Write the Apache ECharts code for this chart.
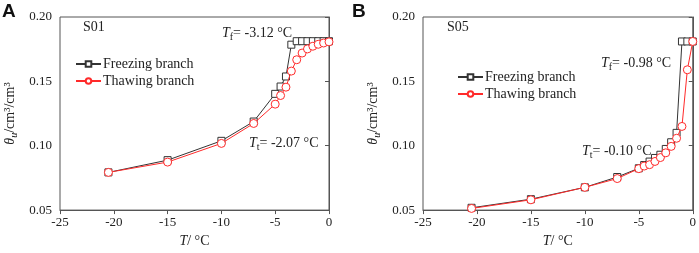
<!DOCTYPE html>
<html><head><meta charset="utf-8">
<script src="https://cdn.jsdelivr.net/npm/echarts@6/dist/echarts.min.js"></script>
<style>html,body{margin:0;padding:0;background:#fff}#c{width:699px;height:253px}</style>
</head><body><div id="c"></div>
<script>
// Panel A (S01)
const tA_freeze = [-20.5, -15, -10, -7, -5, -4.5, -4, -3.5, -3, -2.5, -2, -1.5, -1, -0.5, 0];
const thA_freeze = [0.0793, 0.0888, 0.1038, 0.1188, 0.1403, 0.146, 0.1538, 0.1785, 0.1812, 0.1812, 0.1812, 0.1812, 0.1812, 0.1812, 0.1812];
const tA_thaw = [-20.5, -15, -10, -7, -5, -4.5, -4, -3.5, -3, -2.5, -2, -1.5, -1, -0.5, 0];
const thA_thaw = [0.0793, 0.0873, 0.1018, 0.1173, 0.1323, 0.139, 0.1455, 0.158, 0.1668, 0.172, 0.1752, 0.1773, 0.1788, 0.1798, 0.1807];
// Panel B (S05)
const tB_freeze = [-20.5, -15, -10, -7, -5, -4.5, -4, -3.5, -3, -2.5, -2, -1.5, -1, -0.5, 0];
const thB_freeze = [0.0518, 0.0585, 0.0677, 0.0757, 0.0825, 0.085, 0.0877, 0.0905, 0.093, 0.0975, 0.1027, 0.110, 0.181, 0.181, 0.181];
const tB_thaw = [-20.5, -15, -10, -7, -5, -4.5, -4, -3.5, -3, -2.5, -2, -1.5, -1, -0.5, 0];
const thB_thaw = [0.0513, 0.058, 0.0677, 0.0745, 0.0822, 0.0842, 0.0853, 0.0878, 0.0908, 0.0945, 0.0995, 0.1058, 0.115, 0.159, 0.181];

const xTicks = [-25, -20, -15, -10, -5, 0];
const yTicks = ['0.05', '0.10', '0.15', '0.20'];
const seriesNames = ['Freezing branch', 'Thawing branch'];

const SERIF = '"Liberation Serif", "Times New Roman", serif';
const AX = '#555';
const RED = '#ff2a2a';
const BLK = '#333';

function pairs(xs, ys) { return xs.map((x, i) => [x, ys[i]]); }

function xAxis(idx) {
  return {
    gridIndex: idx, type: 'value', min: xTicks[0], max: xTicks[xTicks.length - 1], interval: 5,
    axisLine: { lineStyle: { color: AX, width: 1 } },
    axisTick: { inside: false, length: 4, lineStyle: { color: AX } },
    axisLabel: { color: '#222', fontFamily: SERIF, fontSize: 13, margin: 6 },
    splitLine: { show: false },
    name: '{i|T}/ °C', nameLocation: 'middle', nameGap: 22,
    nameTextStyle: { color: '#222', fontFamily: SERIF, fontSize: 14,
      rich: { i: { fontStyle: 'italic', fontFamily: SERIF, fontSize: 14, color: '#222' } } }
  };
}
function yAxis(idx) {
  return {
    gridIndex: idx, type: 'value', min: 0.05, max: 0.2, interval: 0.05,
    axisLine: { lineStyle: { color: AX, width: 1 } },
    axisTick: { inside: false, length: 4, lineStyle: { color: AX } },
    axisLabel: { color: '#222', fontFamily: SERIF, fontSize: 13, margin: 8,
      formatter: v => v.toFixed(2) },
    splitLine: { show: false },
    name: '{i|θ}{s|u}/cm³/cm³', nameLocation: 'middle', nameGap: 41, nameRotate: 90,
    nameTextStyle: { color: '#222', fontFamily: SERIF, fontSize: 14, lineHeight: 18,
      rich: {
        i: { fontStyle: 'italic', fontFamily: SERIF, fontSize: 14, lineHeight: 18, color: '#222' },
        s: { fontStyle: 'italic', fontFamily: SERIF, fontSize: 10, lineHeight: 10, verticalAlign: 'bottom', color: '#222' }
      } }
  };
}
function lineSeries(name, idx, data, isThaw) {
  return {
    name: name, type: 'line', xAxisIndex: idx, yAxisIndex: idx, data: data,
    symbol: isThaw ? 'circle' : 'rect', symbolSize: isThaw ? 8 : 7,
    showAllSymbol: true, animation: false,
    lineStyle: { color: isThaw ? RED : BLK, width: 1 },
    itemStyle: { color: '#fff', borderColor: isThaw ? RED : BLK, borderWidth: 1 },
    z: isThaw ? 3 : 2
  };
}
function legend(idx, left, top) {
  return {
    data: seriesNames.map(n => n + (idx ? ' ' : '')),
    left: left, top: top, orient: 'vertical', itemGap: 3, itemWidth: 25, itemHeight: 7,
    padding: 0,
    textStyle: { fontFamily: SERIF, fontSize: 14, color: '#222', padding: [0, 0, 0, -3] },
    selectedMode: false
  };
}
const annRich = {
  i: { fontStyle: 'italic', fontFamily: SERIF, fontSize: 14, lineHeight: 18, fill: '#222' },
  s: { fontFamily: SERIF, fontSize: 10, lineHeight: 10, verticalAlign: 'bottom', fill: '#222' },
  n: { fontFamily: SERIF, fontSize: 14, lineHeight: 18, fill: '#222' }
};
function ann(x, y, txt) {
  return { type: 'text', x: x, y: y, silent: true,
    style: { text: txt, rich: annRich, fontFamily: SERIF, fontSize: 14, fill: '#222', verticalAlign: 'middle', align: 'left' } };
}
function panelLabel(x, t) {
  return { type: 'text', x: x, y: 2, silent: true,
    style: { text: t, fontFamily: '"Liberation Sans", Arial, sans-serif', fontWeight: 'bold', fontSize: 19, fill: '#111' } };
}

const chart = echarts.init(document.getElementById('c'), null, { renderer: 'canvas' });
chart.setOption({
  animation: false,
  grid: [
    { left: 60, top: 17, width: 269, height: 200, show: true, borderColor: AX, borderWidth: 1, backgroundColor: 'transparent' },
    { left: 423, top: 17, width: 272, height: 200, show: true, borderColor: AX, borderWidth: 1, backgroundColor: 'transparent' }
  ],
  xAxis: [xAxis(0), xAxis(1)],
  yAxis: [yAxis(0), yAxis(1)],
  legend: [legend(0, 75, 57), legend(1, 457, 70)],
  series: [
    lineSeries(seriesNames[0], 0, pairs(tA_freeze, thA_freeze), false),
    lineSeries(seriesNames[1], 0, pairs(tA_thaw, thA_thaw), true),
    lineSeries(seriesNames[0] + ' ', 1, pairs(tB_freeze, thB_freeze), false),
    lineSeries(seriesNames[1] + ' ', 1, pairs(tB_thaw, thB_thaw), true)
  ],
  graphic: [
    panelLabel(2, 'A'), panelLabel(352, 'B'),
    ann(83, 27, '{n|S01}'),
    ann(222, 33, '{i|T}{s|f}{n|= -3.12 °C}'),
    ann(249, 143, '{i|T}{s|t}{n|= -2.07 °C}'),
    ann(447, 27, '{n|S05}'),
    ann(601, 63, '{i|T}{s|f}{n|= -0.98 °C}'),
    ann(582, 151, '{i|T}{s|t}{n|= -0.10 °C}')
  ]
});
</script></body></html>
